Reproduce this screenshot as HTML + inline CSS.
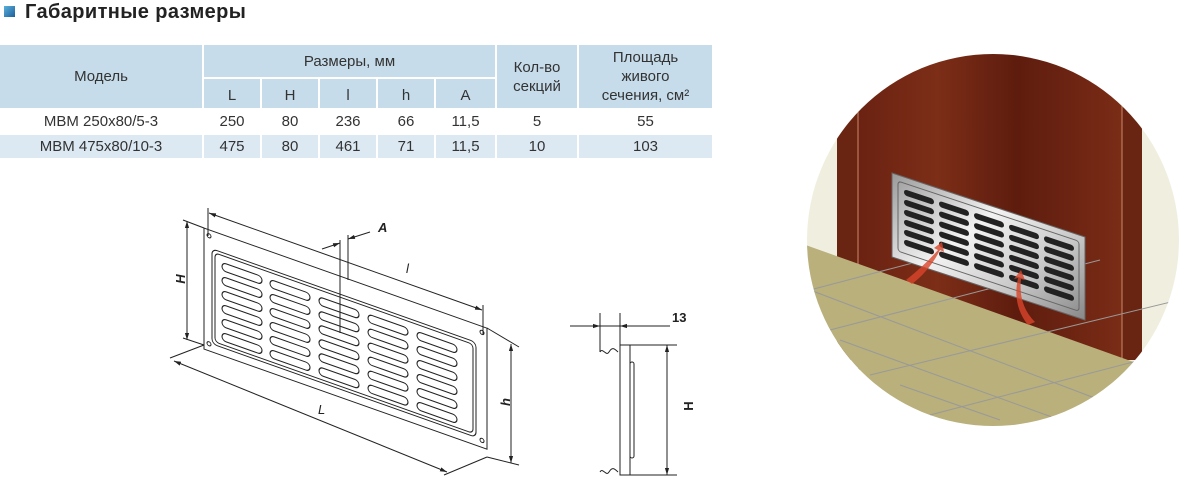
<!DOCTYPE html>
<html><head><meta charset="utf-8"><style>
html,body{margin:0;padding:0;background:#fff;}
body{width:1179px;height:478px;position:relative;overflow:hidden;font-family:"Liberation Sans","DejaVu Sans",sans-serif;}
.t{position:absolute;left:25px;top:0px;font-size:20px;font-weight:bold;color:#222;line-height:24px;letter-spacing:0.4px;}
.ic{position:absolute;left:4px;top:6px;width:11px;height:11px;background:linear-gradient(135deg,#5bb0dc,#1c5f9a);}
.c{position:absolute;display:flex;align-items:center;justify-content:center;text-align:center;color:#333;font-size:15px;line-height:19px;}
.hb{background:#c6dcea;}
.rb{background:#dde9f2;}
svg{display:block;}
</style></head><body>
<div class="ic"></div><div class="t">Габаритные размеры</div>

<div class="c hb" style="left:0;top:45px;width:202px;height:63px;">Модель</div>
<div class="c hb" style="left:204px;top:45px;width:291px;height:32px;">Размеры, мм</div>
<div class="c hb" style="left:204px;top:79px;width:56px;height:29px;padding-top:4px;box-sizing:border-box;">L</div>
<div class="c hb" style="left:262px;top:79px;width:56px;height:29px;padding-top:4px;box-sizing:border-box;">H</div>
<div class="c hb" style="left:320px;top:79px;width:56px;height:29px;padding-top:4px;box-sizing:border-box;">l</div>
<div class="c hb" style="left:378px;top:79px;width:56px;height:29px;padding-top:4px;box-sizing:border-box;">h</div>
<div class="c hb" style="left:436px;top:79px;width:59px;height:29px;padding-top:4px;box-sizing:border-box;">A</div>
<div class="c hb" style="left:497px;top:45px;width:80px;height:63px;">Кол-во<br>секций</div>
<div class="c hb" style="left:579px;top:45px;width:133px;height:63px;">Площадь<br>живого<br>сечения, см²</div>

<div class="c" style="left:0;top:110px;width:202px;height:23px;">МВМ 250х80/5-3</div>
<div class="c" style="left:204px;top:110px;width:56px;height:23px;">250</div>
<div class="c" style="left:262px;top:110px;width:56px;height:23px;">80</div>
<div class="c" style="left:320px;top:110px;width:56px;height:23px;">236</div>
<div class="c" style="left:378px;top:110px;width:56px;height:23px;">66</div>
<div class="c" style="left:436px;top:110px;width:59px;height:23px;">11,5</div>
<div class="c" style="left:497px;top:110px;width:80px;height:23px;">5</div>
<div class="c" style="left:579px;top:110px;width:133px;height:23px;">55</div>

<div class="c rb" style="left:0;top:135px;width:202px;height:23px;">МВМ 475х80/10-3</div>
<div class="c rb" style="left:204px;top:135px;width:56px;height:23px;">475</div>
<div class="c rb" style="left:262px;top:135px;width:56px;height:23px;">80</div>
<div class="c rb" style="left:320px;top:135px;width:56px;height:23px;">461</div>
<div class="c rb" style="left:378px;top:135px;width:56px;height:23px;">71</div>
<div class="c rb" style="left:436px;top:135px;width:59px;height:23px;">11,5</div>
<div class="c rb" style="left:497px;top:135px;width:80px;height:23px;">10</div>
<div class="c rb" style="left:579px;top:135px;width:133px;height:23px;">103</div>

<svg width="1179" height="478" style="position:absolute;left:0;top:0" xmlns="http://www.w3.org/2000/svg">
<defs>
<marker id="a" viewBox="0 0 10 10" refX="10" refY="5" markerWidth="7" markerHeight="7" orient="auto-start-reverse"><path d="M0,2 L10,5 L0,8z" fill="#222"/></marker>
<clipPath id="cc"><circle cx="993" cy="240" r="186"/></clipPath>
<linearGradient id="wd" x1="0" x2="1"><stop offset="0" stop-color="#6b2212"/><stop offset=".3" stop-color="#7c2e17"/><stop offset=".6" stop-color="#5e1c0e"/><stop offset="1" stop-color="#7a2c16"/></linearGradient>
<linearGradient id="mt" x1="0" y1="0" x2="1" y2="1"><stop offset="0" stop-color="#9a9a9a"/><stop offset=".4" stop-color="#f2f2f2"/><stop offset=".7" stop-color="#c8c8c8"/><stop offset="1" stop-color="#888"/></linearGradient>
</defs>

<g fill="none" stroke="#222" stroke-width="1">
 <g transform="matrix(1,0.354,0,1,0,-72.2)">
  <rect x="204" y="228" width="283" height="121" fill="#fff"/>
  <rect x="212" y="246" width="264" height="95" rx="5"/>
  <rect x="215" y="249" width="258" height="89" rx="4"/>
  <g stroke-width="1.1">
  <rect x="222" y="256" width="40" height="8" rx="4"/><rect x="222" y="270" width="40" height="8" rx="4"/><rect x="222" y="284" width="40" height="8" rx="4"/><rect x="222" y="298" width="40" height="8" rx="4"/><rect x="222" y="312" width="40" height="8" rx="4"/><rect x="222" y="326" width="40" height="8" rx="4"/>
  <rect x="270" y="256" width="40" height="8" rx="4"/><rect x="270" y="270" width="40" height="8" rx="4"/><rect x="270" y="284" width="40" height="8" rx="4"/><rect x="270" y="298" width="40" height="8" rx="4"/><rect x="270" y="312" width="40" height="8" rx="4"/><rect x="270" y="326" width="40" height="8" rx="4"/>
  <rect x="319" y="256" width="40" height="8" rx="4"/><rect x="319" y="270" width="40" height="8" rx="4"/><rect x="319" y="284" width="40" height="8" rx="4"/><rect x="319" y="298" width="40" height="8" rx="4"/><rect x="319" y="312" width="40" height="8" rx="4"/><rect x="319" y="326" width="40" height="8" rx="4"/>
  <rect x="368" y="256" width="40" height="8" rx="4"/><rect x="368" y="270" width="40" height="8" rx="4"/><rect x="368" y="284" width="40" height="8" rx="4"/><rect x="368" y="298" width="40" height="8" rx="4"/><rect x="368" y="312" width="40" height="8" rx="4"/><rect x="368" y="326" width="40" height="8" rx="4"/>
  <rect x="417" y="256" width="40" height="8" rx="4"/><rect x="417" y="270" width="40" height="8" rx="4"/><rect x="417" y="284" width="40" height="8" rx="4"/><rect x="417" y="298" width="40" height="8" rx="4"/><rect x="417" y="312" width="40" height="8" rx="4"/><rect x="417" y="326" width="40" height="8" rx="4"/>
  </g>
  <circle cx="209" cy="234" r="2"/><circle cx="482" cy="234" r="2"/><circle cx="209" cy="342" r="2"/><circle cx="482" cy="342" r="2"/>
 </g>
 <line x1="187" y1="221" x2="187" y2="340" marker-start="url(#a)" marker-end="url(#a)"/>
 <line x1="183" y1="220" x2="204" y2="228"/><line x1="183" y1="338" x2="204" y2="345"/>
 <line x1="209" y1="213" x2="482" y2="310" marker-start="url(#a)" marker-end="url(#a)"/>
 <line x1="208" y1="208" x2="208" y2="236"/><line x1="483" y1="305" x2="483" y2="334"/>
 <line x1="174" y1="361" x2="447" y2="472" marker-start="url(#a)" marker-end="url(#a)"/>
 <line x1="204" y1="345" x2="170" y2="358"/><line x1="487" y1="457" x2="444" y2="475"/>
 <line x1="511" y1="344" x2="511" y2="463" marker-start="url(#a)" marker-end="url(#a)"/>
 <line x1="487" y1="328" x2="519" y2="347"/><line x1="487" y1="457" x2="519" y2="465"/>
 <line x1="340" y1="240" x2="340" y2="333"/><line x1="348" y1="235" x2="348" y2="280"/>
 <line x1="322" y1="249" x2="340" y2="243" marker-end="url(#a)"/><line x1="370" y1="232" x2="348" y2="239" marker-end="url(#a)"/>
 <line x1="600" y1="313" x2="600" y2="352"/><line x1="620" y1="313" x2="620" y2="475"/>
 <path d="M600,352 c3,-5 6,5 9,0 s5,-4 9,0"/><path d="M600,472 c3,-5 6,5 9,0 s5,-4 9,0"/>
 <rect x="620" y="345" width="10" height="130" fill="#fff"/>
 <rect x="630" y="362" width="4" height="96" rx="2"/>
 <line x1="630" y1="345" x2="677" y2="345"/><line x1="630" y1="475" x2="677" y2="475"/>
 <line x1="667" y1="345" x2="667" y2="475" marker-start="url(#a)" marker-end="url(#a)"/>
 <line x1="570" y1="326" x2="600" y2="326" marker-end="url(#a)"/><line x1="670" y1="326" x2="620" y2="326" marker-end="url(#a)"/>
 <line x1="600" y1="326" x2="620" y2="326"/>
</g>
<g font-family="Liberation Sans,sans-serif" fill="#222" font-size="13">
 <text x="184" y="288" font-style="italic" font-weight="bold" transform="rotate(-90 180 283)" text-anchor="middle">H</text>
 <text x="406" y="273" font-style="italic">l</text>
 <text x="318" y="414" font-style="italic">L</text>
 <text x="378" y="232" font-style="italic" font-weight="bold">A</text>
 <text x="510" y="410" font-style="italic" font-weight="bold" transform="rotate(-90 506 406)" text-anchor="middle">h</text>
 <text x="672" y="322" font-weight="bold">13</text>
 <text x="692" y="415" font-weight="bold" transform="rotate(-90 688 410)" text-anchor="middle">H</text>
</g>

<g clip-path="url(#cc)">
 <rect x="800" y="40" width="380" height="400" fill="#f0efdf"/>
 <rect x="837" y="40" width="21" height="320" fill="#6a2412"/>
 <rect x="858" y="40" width="264" height="330" fill="url(#wd)"/>
 <rect x="1122" y="40" width="20" height="320" fill="#6a2412"/>
 <line x1="858" y1="40" x2="858" y2="360" stroke="#c98a6a" stroke-width="1"/>
 <line x1="1122" y1="40" x2="1122" y2="360" stroke="#c98a6a" stroke-width="1"/>
 <polygon points="800,243 1142,365 1179,365 1179,440 800,440" fill="#b9b07c"/>
 <g stroke="#999" stroke-width="1" fill="none">
  <line x1="810" y1="290" x2="1000" y2="240"/>
  <line x1="830" y1="330" x2="1100" y2="260"/>
  <line x1="870" y1="375" x2="1179" y2="300"/>
  <line x1="930" y1="415" x2="1179" y2="350"/>
  <line x1="810" y1="290" x2="1100" y2="400"/>
  <line x1="840" y1="340" x2="1060" y2="420"/>
  <line x1="900" y1="385" x2="1000" y2="420"/>
 </g>
 <polygon points="892,173 1085,237 1085,320 892,257" fill="url(#mt)" stroke="#666"/>
 <g transform="matrix(1,0.332,0,1,0,-298)">
  <rect x="898" y="181" width="181" height="70" rx="3" fill="none" stroke="#666"/>
  <g fill="#222">
  <rect x="904" y="187" width="30" height="6" rx="3"/><rect x="904" y="197" width="30" height="6" rx="3"/><rect x="904" y="207" width="30" height="6" rx="3"/><rect x="904" y="217" width="30" height="6" rx="3"/><rect x="904" y="227" width="30" height="6" rx="3"/><rect x="904" y="237" width="30" height="6" rx="3"/>
  <rect x="939" y="187" width="30" height="6" rx="3"/><rect x="939" y="197" width="30" height="6" rx="3"/><rect x="939" y="207" width="30" height="6" rx="3"/><rect x="939" y="217" width="30" height="6" rx="3"/><rect x="939" y="227" width="30" height="6" rx="3"/><rect x="939" y="237" width="30" height="6" rx="3"/>
  <rect x="974" y="187" width="30" height="6" rx="3"/><rect x="974" y="197" width="30" height="6" rx="3"/><rect x="974" y="207" width="30" height="6" rx="3"/><rect x="974" y="217" width="30" height="6" rx="3"/><rect x="974" y="227" width="30" height="6" rx="3"/><rect x="974" y="237" width="30" height="6" rx="3"/>
  <rect x="1009" y="187" width="30" height="6" rx="3"/><rect x="1009" y="197" width="30" height="6" rx="3"/><rect x="1009" y="207" width="30" height="6" rx="3"/><rect x="1009" y="217" width="30" height="6" rx="3"/><rect x="1009" y="227" width="30" height="6" rx="3"/><rect x="1009" y="237" width="30" height="6" rx="3"/>
  <rect x="1044" y="187" width="30" height="6" rx="3"/><rect x="1044" y="197" width="30" height="6" rx="3"/><rect x="1044" y="207" width="30" height="6" rx="3"/><rect x="1044" y="217" width="30" height="6" rx="3"/><rect x="1044" y="227" width="30" height="6" rx="3"/><rect x="1044" y="237" width="30" height="6" rx="3"/>
  </g>
 </g>
 <path d="M906,280 Q925,265 938,250 l-4,-2 l8,-6 l2,10 l-4,-2 Q930,270 912,284z" fill="#d9452a" opacity=".8"/>
 <path d="M1028,325 Q1012,305 1018,278 l-4,1 l7,-9 l4,10 l-4,-1 Q1018,305 1035,322z" fill="#d9452a" opacity=".8"/>
</g>
</svg>
</body></html>
